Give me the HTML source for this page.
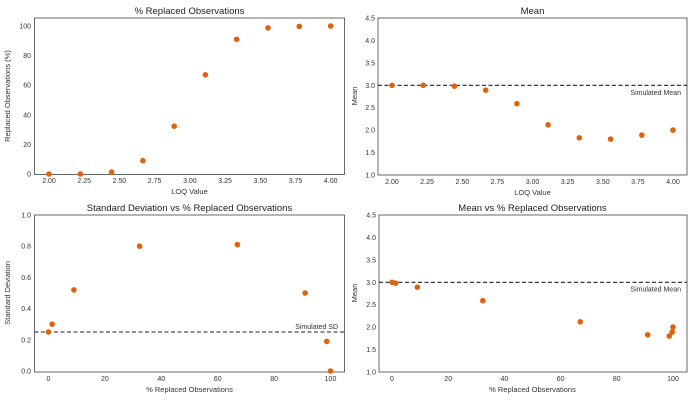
<!DOCTYPE html>
<html><head><meta charset="utf-8"><style>
body{margin:0;background:#fff}
svg{font-family:"Liberation Sans","DejaVu Sans",sans-serif;}
.t{font-size:7px;fill:#333}
.ti{font-size:9.5px;fill:#222}
.l{font-size:7.5px;fill:#333}
.ax{fill:none;stroke:#444;stroke-width:0.8}
circle{fill:#e0620d}
.tk{stroke:#444;stroke-width:0.8}
.d{stroke:#222;stroke-width:1.1;stroke-dasharray:4,2.5}
</style></head><body>
<svg width="700" height="400" xmlns="http://www.w3.org/2000/svg">
<!-- Top-left -->
<text class="ti" x="189.5" y="14" text-anchor="middle">% Replaced Observations</text>
<rect class="ax" x="34.5" y="18" width="310" height="156.5"/>
<g class="t" text-anchor="middle">
<text x="49" y="183">2.00</text><text x="84.2" y="183">2.25</text><text x="119.4" y="183">2.50</text><text x="154.6" y="183">2.75</text><text x="189.9" y="183">3.00</text><text x="225.1" y="183">3.25</text><text x="260.3" y="183">3.50</text><text x="295.5" y="183">3.75</text><text x="330.7" y="183">4.00</text>
</g>
<g class="t" text-anchor="end">
<text x="31" y="176.5">0</text><text x="31" y="146.9">20</text><text x="31" y="117.3">40</text><text x="31" y="87.7">60</text><text x="31" y="58.1">80</text><text x="31" y="28.5">100</text>
</g>
<text class="l" x="189.5" y="194" text-anchor="middle">LOQ Value</text>
<text class="l" x="10" y="96" text-anchor="middle" transform="rotate(-90 10 96)">Replaced Observations (%)</text>
<g><circle cx="49" cy="174" r="2.8"/><circle cx="80.3" cy="174" r="2.8"/><circle cx="111.6" cy="172.1" r="2.8"/><circle cx="142.9" cy="160.7" r="2.8"/><circle cx="174.2" cy="126.2" r="2.8"/><circle cx="205.4" cy="74.8" r="2.8"/><circle cx="236.7" cy="39.3" r="2.8"/><circle cx="268" cy="27.9" r="2.8"/><circle cx="299.3" cy="26.4" r="2.8"/><circle cx="330.7" cy="26" r="2.8"/></g>

<!-- Top-right -->
<text class="ti" x="532.5" y="14" text-anchor="middle">Mean</text>
<rect class="ax" x="378" y="18" width="309" height="157"/>
<g class="t" text-anchor="middle">
<text x="392" y="184">2.00</text><text x="427.1" y="184">2.25</text><text x="462.3" y="184">2.50</text><text x="497.4" y="184">2.75</text><text x="532.5" y="184">3.00</text><text x="567.6" y="184">3.25</text><text x="602.8" y="184">3.50</text><text x="637.9" y="184">3.75</text><text x="673" y="184">4.00</text>
</g>
<g class="t" text-anchor="end">
<text x="375" y="177.5">1.0</text><text x="375" y="155.1">1.5</text><text x="375" y="132.6">2.0</text><text x="375" y="110.2">2.5</text><text x="375" y="87.8">3.0</text><text x="375" y="65.4">3.5</text><text x="375" y="42.9">4.0</text><text x="375" y="20.5">4.5</text>
</g>
<text class="l" x="532.5" y="195" text-anchor="middle">LOQ Value</text>
<text class="l" x="357" y="96" text-anchor="middle" transform="rotate(-90 357 96)">Mean</text>
<line class="d" x1="378" y1="85.3" x2="687" y2="85.3"/>
<text class="t" x="681" y="95" text-anchor="end">Simulated Mean</text>
<g><circle cx="392" cy="85.3" r="2.8"/><circle cx="423.2" cy="85.3" r="2.8"/><circle cx="454.4" cy="86.2" r="2.8"/><circle cx="485.7" cy="90.2" r="2.8"/><circle cx="516.9" cy="103.7" r="2.8"/><circle cx="548.1" cy="124.8" r="2.8"/><circle cx="579.3" cy="137.8" r="2.8"/><circle cx="610.6" cy="139.1" r="2.8"/><circle cx="641.8" cy="135.1" r="2.8"/><circle cx="673" cy="130.1" r="2.8"/></g>

<!-- Bottom-left -->
<text class="ti" x="189.5" y="211" text-anchor="middle">Standard Deviation vs % Replaced Observations</text>
<rect class="ax" x="34.5" y="215" width="310" height="157"/>
<g class="t" text-anchor="middle">
<text x="48.5" y="381">0</text><text x="104.9" y="381">20</text><text x="161.3" y="381">40</text><text x="217.7" y="381">60</text><text x="274.1" y="381">80</text><text x="330.5" y="381">100</text>
</g>
<g class="t" text-anchor="end">
<text x="31" y="373.5">0.0</text><text x="31" y="342.3">0.2</text><text x="31" y="311.1">0.4</text><text x="31" y="279.9">0.6</text><text x="31" y="248.7">0.8</text><text x="31" y="217.5">1.0</text>
</g>
<text class="l" x="189.5" y="392" text-anchor="middle">% Replaced Observations</text>
<text class="l" x="10" y="293" text-anchor="middle" transform="rotate(-90 10 293)">Standard Deviation</text>
<line class="d" x1="34.5" y1="332" x2="344.5" y2="332"/>
<text class="t" x="338" y="329" text-anchor="end">Simulated SD</text>
<g><circle cx="48.5" cy="332" r="2.8"/><circle cx="52.2" cy="324.2" r="2.8"/><circle cx="73.9" cy="289.9" r="2.8"/><circle cx="139.6" cy="246.2" r="2.8"/><circle cx="237.4" cy="244.6" r="2.8"/><circle cx="305.1" cy="293" r="2.8"/><circle cx="326.8" cy="341.4" r="2.8"/><circle cx="330.5" cy="371" r="2.8"/></g>

<!-- Bottom-right -->
<text class="ti" x="532.5" y="211" text-anchor="middle">Mean vs % Replaced Observations</text>
<rect class="ax" x="379" y="215" width="308" height="157"/>
<g class="t" text-anchor="middle">
<text x="392" y="381">0</text><text x="448.2" y="381">20</text><text x="504.4" y="381">40</text><text x="560.6" y="381">60</text><text x="616.8" y="381">80</text><text x="673" y="381">100</text>
</g>
<g class="t" text-anchor="end">
<text x="376" y="374.5">1.0</text><text x="376" y="352.1">1.5</text><text x="376" y="329.6">2.0</text><text x="376" y="307.2">2.5</text><text x="376" y="284.8">3.0</text><text x="376" y="262.4">3.5</text><text x="376" y="239.9">4.0</text><text x="376" y="217.5">4.5</text>
</g>
<text class="l" x="532.5" y="392" text-anchor="middle">% Replaced Observations</text>
<text class="l" x="357" y="293" text-anchor="middle" transform="rotate(-90 357 293)">Mean</text>
<line class="d" x1="379" y1="282.3" x2="687" y2="282.3"/>
<text class="t" x="681" y="291.5" text-anchor="end">Simulated Mean</text>
<g><circle cx="392" cy="282.3" r="2.8"/><circle cx="395.7" cy="283.2" r="2.8"/><circle cx="417.3" cy="287.2" r="2.8"/><circle cx="482.8" cy="300.7" r="2.8"/><circle cx="580.3" cy="321.8" r="2.8"/><circle cx="647.7" cy="334.8" r="2.8"/><circle cx="669.3" cy="336.1" r="2.8"/><circle cx="672.2" cy="332.1" r="2.8"/><circle cx="673" cy="327.1" r="2.8"/></g>
</svg>
</body></html>
